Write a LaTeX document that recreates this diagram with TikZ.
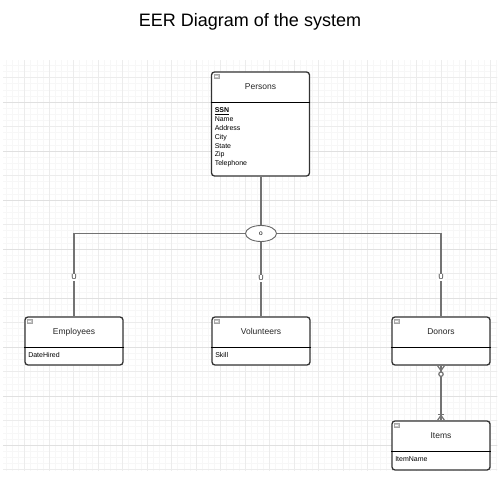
\documentclass[tikz,border=0pt]{standalone}
\usepackage{fontspec}
\setmainfont{Liberation Sans}
\usetikzlibrary{shapes.geometric}

\begin{document}
\begin{tikzpicture}[x=1pt, y=-1pt, thick,
    entity/.style = {draw=black!80, line width=1.3pt, rounded corners=3pt, minimum width=98, inner sep=0pt, fill=white},
    etitle/.style = {anchor=base, font=\fontsize{8.5}{10}\selectfont, text=black!85},
    attrs/.style = {anchor=north west, inner sep=0pt, align=left, font=\fontsize{7}{8.8}\selectfont, text=black},
    icon/.style = {draw=gray!70, fill=gray!45, line width=0.4pt},
    conn/.style = {draw=black!55, line width=1.2pt},
    dis/.style = {draw=black!60, line width=0.9pt, ellipse, fill=white, minimum width=31, minimum height=16, inner sep=0pt, font=\fontsize{6.5}{7}\selectfont},
    ulab/.style = {fill=white, inner sep=0.8pt, font=\fontsize{7.5}{8}\selectfont, text=black!85}]
    \useasboundingbox[fill=white] (0,0) rectangle (498,497);

    % grid paper
    \begin{scope}
        \clip (3,61) rectangle (497,470);
        \begin{scope}[y=1pt, shift={(0,-4)}]
            \draw[gray!6, line width=0.4pt, step=6.125] (0,-480) grid (500,10);
            \draw[gray!15, line width=0.6pt, step=24.5] (0,-480) grid (500,10);
            \draw[gray!24, line width=0.7pt, xstep=1000, ystep=49] (0,-480) grid (500,10);
        \end{scope}
    \end{scope}

    \node[anchor=base, font=\fontsize{18}{20}\selectfont] (title) at (250,27) {EER Diagram of the system};

    % entities
    \node[entity, minimum height=104] (persons) at (260.5,124) {};
    \node[entity, minimum height=48] (employees) at (74,341) {};
    \node[entity, minimum height=48] (volunteers) at (261,341) {};
    \node[entity, minimum height=48] (donors) at (441,341) {};
    \node[entity, minimum height=49] (items) at (441,445.5) {};

    \foreach \e/\t in {persons/Persons, employees/Employees, volunteers/Volunteers, donors/Donors, items/Items} {
        \draw ([yshift=-31pt]\e.north west) -- ([yshift=-31pt]\e.north east);
        \draw[icon] ([shift={(3,3)}]\e.north west) rectangle ++(5,4);
        \draw[white, line width=0.5pt] ([shift={(4,5)}]\e.north west) -- ++(3,0);
        \node[etitle] (\e_t) at ([yshift=-18.5pt]\e.north) {\t};
    }

    \node[attrs] (persons_a) at ([shift={(3.5,36.2)}]persons.north west) {\textbf{\underline{SSN}}\\Name\\Address\\City\\State\\Zip\\Telephone};
    \node[attrs] (employees_a) at ([shift={(3.5,36)}]employees.north west) {DateHired};
    \node[attrs] (volunteers_a) at ([shift={(3.5,36)}]volunteers.north west) {Skill};
    \node[attrs] (items_a) at ([shift={(3.5,36)}]items.north west) {ItemName};

    % specialization
    \node[dis] (ov) at (261,233.5) {o};
    \draw[conn] (persons.south -| ov) -- (ov.north);
    \draw[conn] (ov.west) -| node[ulab, pos=0.765] {U} (employees.north);
    \draw[conn] (ov.south) -- node[ulab, pos=0.49] {U} (volunteers.north);
    \draw[conn] (ov.east) -| node[ulab, pos=0.765] {U} (donors.north);

    % donors -- items
    \draw[conn] (donors.south) -- (items.north);
    \draw[conn] ([xshift=-3.5pt]donors.south) -- ([yshift=-5pt]donors.south) -- ([xshift=3.5pt]donors.south);
    \draw[conn, fill=white] ([yshift=-8.5pt]donors.south) circle (2.2pt);
    \draw[conn] ([xshift=-3.5pt]items.north) -- ([yshift=5pt]items.north) -- ([xshift=3.5pt]items.north);
    \draw[conn] ([shift={(-3,-6)}]items.north) -- ++(6,0);
\end{tikzpicture}
\end{document}
